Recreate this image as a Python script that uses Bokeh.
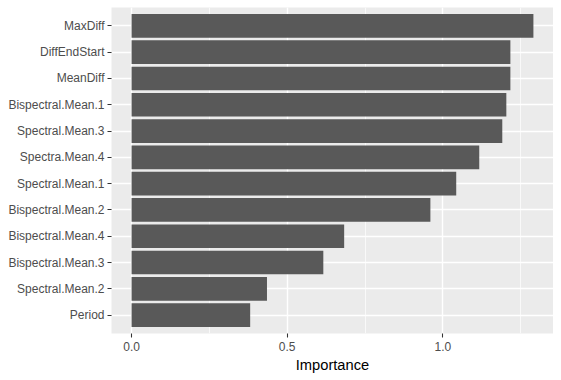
from bokeh.plotting import figure
from bokeh.models import FactorRange, Range1d, SingleIntervalTicker, NumeralTickFormatter
from bokeh.embed import file_html
from bokeh.resources import INLINE

# Data (top to bottom as shown in chart)
features = ["MaxDiff", "DiffEndStart", "MeanDiff", "Bispectral.Mean.1",
            "Spectral.Mean.3", "Spectra.Mean.4", "Spectral.Mean.1",
            "Bispectral.Mean.2", "Bispectral.Mean.4", "Bispectral.Mean.3",
            "Spectral.Mean.2", "Period"]
importance = [1.291, 1.217, 1.217, 1.204, 1.191, 1.117, 1.043,
              0.960, 0.683, 0.616, 0.435, 0.381]

# bottom-to-top order for categorical axis
cats = features[::-1]
vals = importance[::-1]

vmax = max(importance)
pad = 0.05 * vmax
x_range = Range1d(0 - pad, vmax + pad)
y_range = FactorRange(factors=cats, range_padding=0.2, range_padding_units="absolute")

p = figure(width=553, height=375, x_range=x_range, y_range=y_range,
           output_backend="svg", toolbar_location=None,
           min_border_left=111, min_border_right=0, min_border_top=7,
           min_border_bottom=40)

p.hbar(y=cats, right=vals, left=0, height=0.9,
       fill_color="#595959", line_color=None)

p.background_fill_color = "#EBEBEB"
p.border_fill_color = "white"
p.outline_line_color = None

ticker = SingleIntervalTicker(interval=0.5, num_minor_ticks=2)
p.xaxis.ticker = ticker
p.xaxis.formatter = NumeralTickFormatter(format="0.0")

p.xgrid.grid_line_color = "white"
p.xgrid.grid_line_width = 1.4
p.xgrid.minor_grid_line_color = "white"
p.xgrid.minor_grid_line_width = 0.7
p.ygrid.grid_line_color = "white"
p.ygrid.grid_line_width = 1.4

for ax in (p.xaxis[0], p.yaxis[0]):
    ax.axis_line_color = None
    ax.major_tick_line_color = "#333333"
    ax.major_tick_line_width = 1.07
    ax.major_tick_out = 4
    ax.major_tick_in = 0
    ax.minor_tick_line_color = None
    ax.major_label_text_color = "#4D4D4D"
    ax.major_label_text_font = "Liberation Sans"
    ax.major_label_text_font_size = "12px"

p.yaxis.major_label_standoff = 3
p.xaxis.major_label_standoff = 4
p.xaxis.axis_label = "Importance"
p.xaxis.axis_label_text_font = "Liberation Sans"
p.xaxis.axis_label_text_font_size = "14.7px"
p.xaxis.axis_label_text_font_style = "normal"
p.xaxis.axis_label_text_color = "black"
p.xaxis.axis_label_standoff = 3

open("out.html", "w").write(file_html(p, INLINE))
